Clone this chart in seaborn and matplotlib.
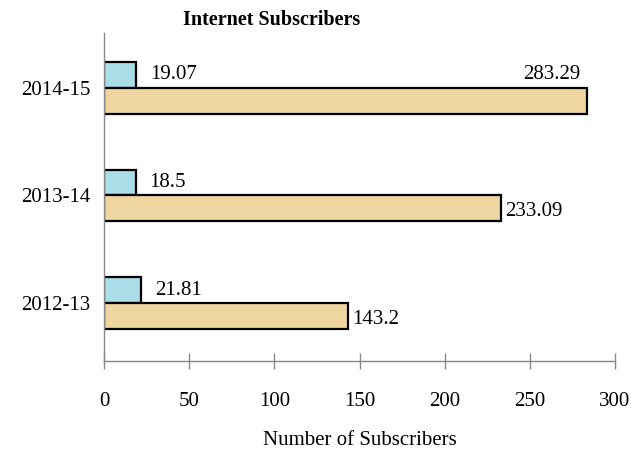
import matplotlib
matplotlib.use("Agg")
import matplotlib.pyplot as plt
import seaborn as sns
import pandas as pd

years = ["2014-15", "2013-14", "2012-13"]
series_names = ["Series A", "Series B"]
values_a = [19.07, 18.5, 21.81]
values_b = [283.29, 233.09, 143.2]
x_ticks = [0, 50, 100, 150, 200, 250, 300]

df = pd.DataFrame({
    "year": years * 2,
    "series": [series_names[0]] * 3 + [series_names[1]] * 3,
    "value": values_a + values_b,
})

sns.set_style("white")
plt.rcParams["font.family"] = ["Liberation Serif", "DejaVu Serif"]
plt.rcParams["text.color"] = "black"
plt.rcParams["axes.labelcolor"] = "black"
plt.rcParams["xtick.color"] = "black"
plt.rcParams["ytick.color"] = "black"

fig = plt.figure(figsize=(6.31, 4.55), dpi=100)
ax = fig.add_axes([104 / 631, 1 - 361 / 455, (615 - 104) / 631, (361 - 33) / 455])

sns.barplot(data=df, y="year", x="value", hue="series", order=years,
            hue_order=series_names, orient="h", width=0.48,
            palette=["#a9dde8", "#efd5a0"], edgecolor="black", linewidth=1.6,
            legend=False, ax=ax, saturation=1)

fs = 15
ax.set_xlim(0, 300)
ax.set_ylim(2.54, -0.51)
ax.set_xticks(x_ticks)
ax.set_xticklabels([str(t) for t in x_ticks], fontsize=fs)
ax.tick_params(axis="x", bottom=True, direction="inout", length=12, width=1,
               color="#888888", labelcolor="black", pad=16)
ax.tick_params(axis="y", left=False, length=0, labelsize=fs, labelcolor="black", pad=10)
for s in ["top", "right"]:
    ax.spines[s].set_visible(False)
for s in ["left", "bottom"]:
    ax.spines[s].set_color("#888888")
    ax.spines[s].set_linewidth(1)
ax.set_ylabel("")
ax.set_xlabel("Number of Subscribers", fontsize=fs, labelpad=15, color="black")

for i, (a, b) in enumerate(zip(values_a, values_b)):
    ya = i - 0.12
    yb = i + 0.12
    ax.text(a + 8, ya, f"{a:g}", va="center", ha="left", fontsize=fs, color="black")
    if b > 260:
        ax.text(b - 3.5, ya, f"{b:g}", va="center", ha="right", fontsize=fs, color="black")
    else:
        ax.text(b + 2.5, yb + 0.03, f"{b:g}", va="center", ha="left", fontsize=fs, color="black")

fig.text(272 / 631, 1 - 20 / 455, "Internet Subscribers", ha="center", va="center",
         fontsize=14.5, fontweight="bold", color="black")

fig.savefig("out.png", dpi=100)
